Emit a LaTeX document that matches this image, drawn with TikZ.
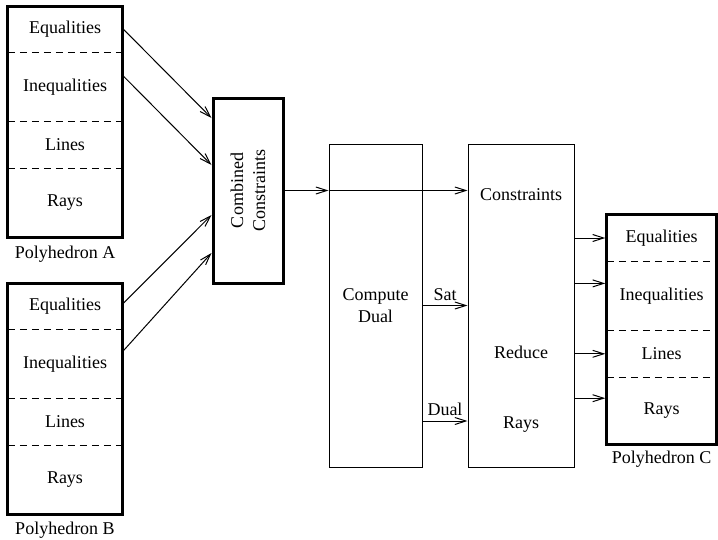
\documentclass[tikz,border=0pt]{standalone}
\usepackage{fontspec}
\setmainfont{Liberation Serif}
\usetikzlibrary{positioning,fit,arrows.meta}
\tikzstyle{sec} = [rectangle, inner sep=0pt, minimum width=114pt]
\tikzstyle{poly-box} = [draw, line width=3pt, inner sep=0pt]
\tikzstyle{sep-line} = [line width=1pt, dash pattern=on 7pt off 5pt]
\tikzstyle{stage-box} = [draw, line width=1pt, minimum height=323pt, align=center]
\tikzstyle{flow} = [line width=1pt, -{Straight Barb[length=11pt,width=7pt]}]

\begin{document}
\begin{tikzpicture}[x=1pt, y=-1pt, font=\fontsize{18}{22}\selectfont]
\useasboundingbox (0,0) rectangle (718,539);
% Polyhedron A
\node[sec, minimum height=45pt] (aeq) at (65,29.5) {Equalities};
\node[sec, minimum height=69pt, below=0pt of aeq] (aineq) {Inequalities};
\node[sec, minimum height=46pt, below=0pt of aineq] (alin) {Lines};
\node[sec, minimum height=69pt, below=0pt of alin] (aray) {Rays};
\node[poly-box, fit=(aeq)(aray)] (polyA) {};
\draw[sep-line] (aeq.south west) -- (aeq.south east);
\draw[sep-line] (aineq.south west) -- (aineq.south east);
\draw[sep-line] (alin.south west) -- (alin.south east);
\node[below=4pt of polyA] {Polyhedron A};
% Polyhedron B
\node[sec, minimum height=45pt] (beq) at (65,306.5) {Equalities};
\node[sec, minimum height=69pt, below=0pt of beq] (bineq) {Inequalities};
\node[sec, minimum height=46pt, below=0pt of bineq] (blin) {Lines};
\node[sec, minimum height=69pt, below=0pt of blin] (bray) {Rays};
\node[poly-box, fit=(beq)(bray)] (polyB) {};
\draw[sep-line] (beq.south west) -- (beq.south east);
\draw[sep-line] (bineq.south west) -- (bineq.south east);
\draw[sep-line] (blin.south west) -- (blin.south east);
\node[below=2.5pt of polyB] {Polyhedron B};
% Polyhedron C
\node[sec, minimum width=109pt, minimum height=46pt] (ceq) at (661.5,238) {Equalities};
\node[sec, minimum width=109pt, minimum height=69pt, below=0pt of ceq] (cineq) {Inequalities};
\node[sec, minimum width=109pt, minimum height=46pt, below=0pt of cineq] (clin) {Lines};
\node[sec, minimum width=109pt, minimum height=67pt, below=0pt of clin] (cray) {Rays};
\node[poly-box, fit=(ceq)(cray)] (polyC) {};
\draw[sep-line] (ceq.south west) -- (ceq.south east);
\draw[sep-line] (cineq.south west) -- (cineq.south east);
\draw[sep-line] (clin.south west) -- (clin.south east);
\node[below=2pt of polyC] {Polyhedron C};
% stages
\node[draw, line width=3pt, minimum width=70pt, minimum height=185pt] (comb) at (248,190.5) {};
\node[rotate=90, align=center] (combtxt) at (comb.center) {Combined\\Constraints};
\node[stage-box, minimum width=93pt] (dual) at (375.5,305.5) {Compute\\Dual};
\node[stage-box, minimum width=106pt] (reduce) at (521,305.5) {};
\node (rcons) at (521,195) {Constraints};
\node (rred) at (521,352) {Reduce};
\node (rrays) at (521,425) {Rays};
% arrows
\coordinate (ain) at ([yshift=10.5pt]aineq.east);
\coordinate (bin) at ([yshift=13.5pt]bineq.east);
\coordinate (bq) at ([yshift=3.5pt]beq.east);
\draw[flow] (polyA.east |- aeq) -- ([yshift=72.5pt]comb.west);
\draw[flow] (polyA.east |- ain) -- ([yshift=25.5pt]comb.west);
\draw[flow] (polyB.east |- bq) -- ([yshift=-24.5pt]comb.west);
\draw[flow] (polyB.east |- bin) -- ([yshift=-62.5pt]comb.west);
\draw[flow] (comb.east) -- (dual.west |- comb.east);
\draw[flow] (dual.west |- comb.east) -- (reduce.west |- comb.east);
\draw[flow] (dual.east) -- (reduce.west |- dual.east) node[midway, above=1pt] {Sat};
\coordinate (dl) at ([yshift=-115.5pt]dual.east);
\draw[flow] (dl) -- (reduce.west |- dl) node[midway, above=1pt] {Dual};
\coordinate (cin) at ([yshift=12.5pt]cineq.west);
\coordinate (cra) at ([yshift=12.5pt]cray.west);
\draw[flow] (reduce.east |- ceq) -- (polyC.west |- ceq);
\draw[flow] (reduce.east |- cin) -- (polyC.west |- cin);
\draw[flow] (reduce.east |- clin) -- (polyC.west |- clin);
\draw[flow] (reduce.east |- cra) -- (polyC.west |- cra);
\end{tikzpicture}
\end{document}
